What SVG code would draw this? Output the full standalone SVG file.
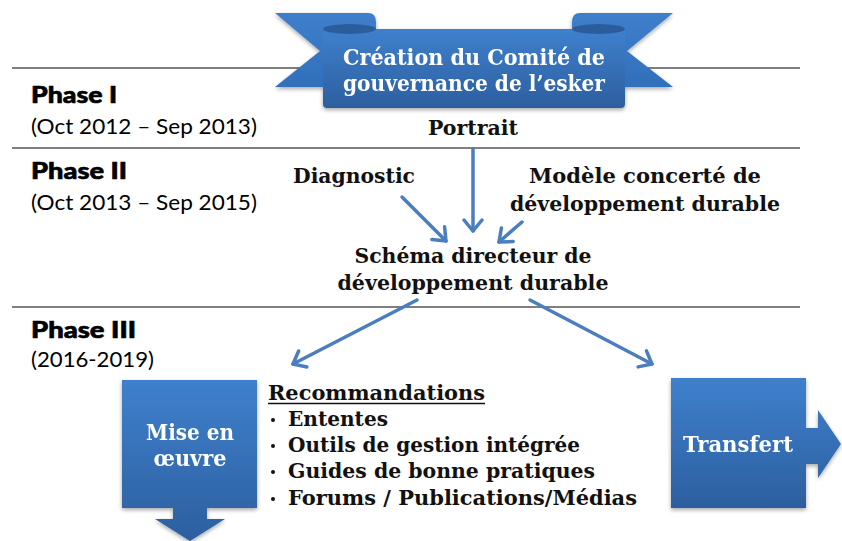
<svg xmlns="http://www.w3.org/2000/svg" width="842" height="541" viewBox="0 0 842 541">
<defs>
<linearGradient id="blue" x1="0" y1="0" x2="0" y2="1">
<stop offset="0" stop-color="#3f80cd"/>
<stop offset="1" stop-color="#2c5f9f"/>
</linearGradient>
<linearGradient id="tail" x1="0" y1="0" x2="0" y2="1">
<stop offset="0" stop-color="#3e7ecb"/>
<stop offset="1" stop-color="#3170bb"/>
</linearGradient>
<filter id="sh" x="-10%" y="-10%" width="120%" height="130%">
<feGaussianBlur in="SourceAlpha" stdDeviation="2"/>
<feOffset dx="0" dy="2" result="b"/>
<feComponentTransfer><feFuncA type="linear" slope="0.35"/></feComponentTransfer>
<feMerge><feMergeNode/><feMergeNode in="SourceGraphic"/></feMerge>
</filter>
<marker id="ah" viewBox="-14 -11 18 22" refX="0" refY="0" markerWidth="18" markerHeight="22" markerUnits="userSpaceOnUse" orient="auto">
<path d="M-11,-9 L0,0 L-11,9" fill="none" stroke="#4a7ebf" stroke-width="3.5" stroke-linecap="round" stroke-linejoin="round"/>
</marker>
</defs>
<style>
.rule{stroke:#555;stroke-width:1.6}
.ph{font-family:Lato,"Open Sans",sans-serif;font-weight:900;font-size:22px;fill:#000;stroke:#000;stroke-width:0.6}
.dt{font-family:Lato,"Open Sans",sans-serif;font-size:21px;fill:#000}
.t{font-family:"DejaVu Serif","Liberation Serif",serif;font-weight:bold;font-size:21px;fill:#111}
.w{font-family:"DejaVu Serif","Liberation Serif",serif;font-weight:bold;font-size:22px;fill:#fff}
.con{fill:none;stroke:#4a7ebf;stroke-width:3.5;stroke-linecap:round;marker-end:url(#ah)}
</style>
<rect width="842" height="541" fill="#fff"/>

<g id="rules">
<line class="rule" x1="12" y1="68" x2="800" y2="68"/>
<line class="rule" x1="12" y1="148" x2="800" y2="148"/>
<line class="rule" x1="12" y1="307" x2="800" y2="307"/>
</g>

<g id="phases">
<text class="ph" x="31" y="103" textLength="86" lengthAdjust="spacingAndGlyphs">Phase I</text>
<text class="dt" x="31" y="134" textLength="226" lengthAdjust="spacingAndGlyphs">(Oct 2012 – Sep 2013)</text>
<text class="ph" x="31" y="179" textLength="96" lengthAdjust="spacingAndGlyphs">Phase II</text>
<text class="dt" x="31" y="210" textLength="226" lengthAdjust="spacingAndGlyphs">(Oct 2013 – Sep 2015)</text>
<text class="ph" x="31" y="338" textLength="105" lengthAdjust="spacingAndGlyphs">Phase III</text>
<text class="dt" x="31" y="367" textLength="123" lengthAdjust="spacingAndGlyphs">(2016-2019)</text>
</g>

<g id="banner" filter="url(#sh)">
<path d="M275,13 L368,13 Q376,13 376,22 L376,87 L275,87 L320,51 Z" fill="url(#tail)"/>
<path d="M673,13 L580,13 Q572,13 572,22 L572,87 L673,87 L627,51 Z" fill="url(#tail)"/>
<path d="M323,29 H625 V104 Q625,108 621,108 H327 Q323,108 323,104 Z" fill="url(#blue)"/>
<ellipse cx="349.5" cy="29" rx="26.5" ry="5" fill="#2c5d9b"/>
<ellipse cx="598.5" cy="29" rx="26.5" ry="5" fill="#2c5d9b"/>
<text class="w" x="474" y="65" text-anchor="middle" textLength="262" lengthAdjust="spacingAndGlyphs">Création du Comité de</text>
<text class="w" x="474" y="91" text-anchor="middle" textLength="262" lengthAdjust="spacingAndGlyphs">gouvernance de l’esker</text>
</g>

<g id="portrait">
<text class="t" x="473" y="135" text-anchor="middle" textLength="90" lengthAdjust="spacingAndGlyphs">Portrait</text>
</g>
<g id="diagnostic">
<text class="t" x="293" y="183" textLength="122" lengthAdjust="spacingAndGlyphs">Diagnostic</text>
</g>
<g id="modele">
<text class="t" x="645" y="183" text-anchor="middle" textLength="232" lengthAdjust="spacingAndGlyphs">Modèle concerté de</text>
<text class="t" x="645" y="211" text-anchor="middle" textLength="270" lengthAdjust="spacingAndGlyphs">développement durable</text>
</g>
<g id="schema">
<text class="t" x="473" y="263" text-anchor="middle" textLength="237" lengthAdjust="spacingAndGlyphs">Schéma directeur de</text>
<text class="t" x="473" y="290" text-anchor="middle" textLength="271" lengthAdjust="spacingAndGlyphs">développement durable</text>
</g>

<g id="connectors">
<line class="con" x1="473" y1="149" x2="473" y2="231"/>
<line class="con" x1="402" y1="197" x2="446" y2="241"/>
<line class="con" x1="522" y1="222" x2="499" y2="242"/>
<line class="con" x1="417" y1="300" x2="293" y2="364"/>
<line class="con" x1="530" y1="300" x2="652" y2="364"/>
</g>

<g id="mise-en-oeuvre" filter="url(#sh)">
<path d="M122,380 H257 V508 H207 V519 H225 L190,541 L155,519 H173 V508 H122 Z" fill="url(#blue)"/>
<text class="w" x="190" y="440" text-anchor="middle" textLength="88" lengthAdjust="spacingAndGlyphs">Mise en</text>
<text class="w" x="190" y="466" text-anchor="middle" textLength="73" lengthAdjust="spacingAndGlyphs">œuvre</text>
</g>

<g id="transfert" filter="url(#sh)">
<path d="M671,378 H806 V428 H818 V410 L841,444 L818,478 V464 H806 V508 H671 Z" fill="url(#blue)"/>
<text class="w" x="738" y="452" text-anchor="middle" textLength="110" lengthAdjust="spacingAndGlyphs">Transfert</text>
</g>

<g id="recommandations">
<text class="t" x="268" y="400" textLength="217" lengthAdjust="spacingAndGlyphs">Recommandations</text>
<line x1="268" y1="403.5" x2="485" y2="403.5" stroke="#111" stroke-width="1.6"/>
<g fill="#111">
<circle cx="273" cy="420" r="2"/>
<circle cx="273" cy="446" r="2"/>
<circle cx="273" cy="472" r="2"/>
<circle cx="273" cy="499" r="2"/>
</g>
<text class="t" x="288" y="426" textLength="100" lengthAdjust="spacingAndGlyphs">Ententes</text>
<text class="t" x="288" y="452" textLength="292" lengthAdjust="spacingAndGlyphs">Outils de gestion intégrée</text>
<text class="t" x="288" y="478" textLength="307" lengthAdjust="spacingAndGlyphs">Guides de bonne pratiques</text>
<text class="t" x="288" y="505" textLength="349" lengthAdjust="spacingAndGlyphs">Forums / Publications/Médias</text>
</g>
</svg>
